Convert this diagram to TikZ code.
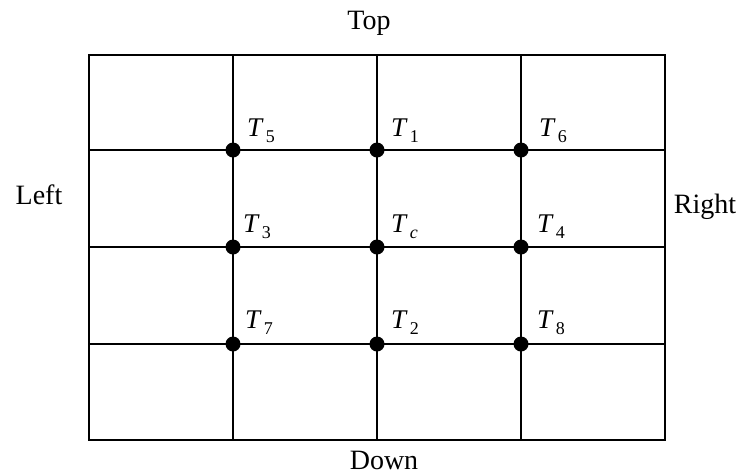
\documentclass[tikz,border=0pt]{standalone}
\usepackage{fontspec}
\setmainfont{Liberation Serif}
% italic T with a lowered, spaced subscript
\newcommand{\tvar}[1]{\textit{T}\kern2pt\raisebox{-6pt}{\fontsize{18}{19}\selectfont#1}}
\begin{document}
\begin{tikzpicture}[x=1pt,y=-1pt,
  gridline/.style={line width=1.3pt,black},
  joint/.style={circle,fill=black,inner sep=0pt,minimum size=15pt},
  tlabel/.style={anchor=base west,inner sep=0pt,font=\fontsize{27}{29}\selectfont},
  side/.style={font=\fontsize{28}{32}\selectfont,inner sep=0pt}]
  \useasboundingbox (0,0) rectangle (741,475);
  % outer frame and inner grid lines
  \draw[gridline] (89,55) rectangle (665,440);
  \foreach \x in {233,377,521} \draw[gridline] (\x,55) -- (\x,440);
  \foreach \y in {150,247,344} \draw[gridline] (89,\y) -- (665,\y);
  % interior joints
  \node[joint] (p5) at (233,150) {};
  \node[joint] (p1) at (377,150) {};
  \node[joint] (p6) at (521,150) {};
  \node[joint] (p3) at (233,247) {};
  \node[joint] (pc) at (377,247) {};
  \node[joint] (p4) at (521,247) {};
  \node[joint] (p7) at (233,344) {};
  \node[joint] (p2) at (377,344) {};
  \node[joint] (p8) at (521,344) {};
  % joint labels
  \node[tlabel] (l5) at (247,136) {\tvar{5}};
  \node[tlabel] (l1) at (391,136) {\tvar{1}};
  \node[tlabel] (l6) at (539,136) {\tvar{6}};
  \node[tlabel] (l3) at (243,232) {\tvar{3}};
  \node[tlabel] (lc) at (391,232) {\tvar{\textit{c}}};
  \node[tlabel] (l4) at (537,232) {\tvar{4}};
  \node[tlabel] (l7) at (245,328) {\tvar{7}};
  \node[tlabel] (l2) at (391,328) {\tvar{2}};
  \node[tlabel] (l8) at (537,328) {\tvar{8}};
  % side captions
  \node[side] (top) at (369,23) {Top};
  \node[side] (down) at (384,460) {Down};
  \node[side] (left) at (39,195) {Left};
  \node[side] (right) at (705,207) {Right};
\end{tikzpicture}
\end{document}
